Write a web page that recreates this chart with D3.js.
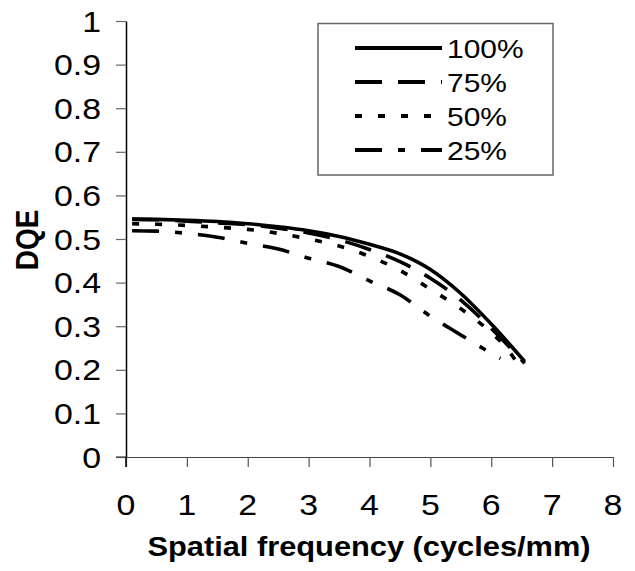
<!DOCTYPE html>
<html><head><meta charset="utf-8">
<script src="https://cdn.jsdelivr.net/npm/d3@7"></script>
<style>html,body{margin:0;padding:0;background:#fff;}svg{display:block;}</style>
</head><body>
<script>
// ---- data ----
const xTicks = [0,1,2,3,4,5,6,7,8];
const yTicks = [0,0.1,0.2,0.3,0.4,0.5,0.6,0.7,0.8,0.9,1];
const yTickLabels = ["0","0.1","0.2","0.3","0.4","0.5","0.6","0.7","0.8","0.9","1"];
const seriesNames = ["100%","75%","50%","25%"];
const freq100 = [0.1,0.5,1,1.5,2,2.5,3,3.5,4,4.5,5,5.5,6,6.55];
const dqe100  = [0.546,0.545,0.543,0.540,0.535,0.528,0.519,0.506,0.488,0.466,0.430,0.375,0.305,0.219];
const freq75  = [0.1,0.5,1,1.5,2,2.5,3,3.5,4,4.5,5,5.5,6,6.55];
const dqe75   = [0.545,0.544,0.541,0.537,0.533,0.525,0.514,0.498,0.476,0.448,0.410,0.360,0.295,0.215];
const freq50  = [0.1,0.5,1,1.5,2,2.5,3,3.5,4,4.5,5,5.5,6,6.25,6.52];
const dqe50   = [0.535,0.534,0.531,0.527,0.522,0.513,0.500,0.484,0.460,0.428,0.385,0.340,0.285,0.250,0.195];
const freq25  = [0.1,0.5,1,1.5,2,2.5,3,3.5,4,4.5,5,5.5,6,6.15];
const dqe25   = [0.519,0.518,0.513,0.504,0.490,0.477,0.456,0.437,0.404,0.372,0.323,0.280,0.238,0.226];
const xTitle = "Spatial frequency (cycles/mm)";
const yTitle = "DQE";

// ---- layout ----
const W = 635, H = 571;
const SX = 1.13; // horizontal stretch of text
const dashes = [null, "27,16", "7,16", "27,16,7,16"];
const series = [
  {name: seriesNames[0], f: freq100, v: dqe100, dash: dashes[0]},
  {name: seriesNames[1], f: freq75,  v: dqe75,  dash: dashes[1]},
  {name: seriesNames[2], f: freq50,  v: dqe50,  dash: dashes[2]},
  {name: seriesNames[3], f: freq25,  v: dqe25,  dash: dashes[3]}
];

const svg = d3.select("body").append("svg").attr("width", W).attr("height", H);
const x = d3.scaleLinear().domain([0,8]).range([126,613]);
const y = d3.scaleLinear().domain([0,1]).range([457,21]);
const font = "Liberation Sans, Arial, sans-serif";

// axes
const gx = svg.append("g").attr("transform", `translate(0,${y(0)})`)
  .call(d3.axisBottom(x).tickValues(xTicks).tickSize(10).tickSizeOuter(0).tickFormat(""));
const gy = svg.append("g").attr("transform", `translate(${x(0)},0)`)
  .call(d3.axisLeft(y).tickValues(yTicks).tickSize(10).tickSizeOuter(0).tickFormat(""));
gx.select(".domain").attr("stroke", "#444").attr("stroke-width", 1.2);
gx.selectAll(".tick line").attr("stroke", "#555").attr("stroke-width", 1.2);
gy.select(".domain").attr("stroke", "#000").attr("stroke-width", 1.5);
gy.selectAll(".tick line").attr("stroke", "#666").attr("stroke-width", 1.2);
// axis extensions at origin (ticks for 0 cross the other axis)
svg.append("line").attr("x1", x(0)-10).attr("x2", x(0)).attr("y1", y(0)).attr("y2", y(0)).attr("stroke", "#444").attr("stroke-width", 1.2);
svg.append("line").attr("x1", x(0)).attr("x2", x(0)).attr("y1", y(0)).attr("y2", y(0)+10).attr("stroke", "#000").attr("stroke-width", 1.5);

// tick labels
const TF = 30;
svg.append("g").selectAll("text").data(xTicks).join("text")
  .attr("transform", d => `translate(${x(d)},515) scale(${SX},1)`)
  .attr("text-anchor", "middle").attr("font-family", font).attr("font-size", TF)
  .text(d => String(d));
svg.append("g").selectAll("text").data(yTicks).join("text")
  .attr("transform", d => `translate(101,${y(d)+10.5}) scale(${SX},1)`)
  .attr("text-anchor", "end").attr("font-family", font).attr("font-size", TF)
  .text((d,i) => yTickLabels[i]);

// titles
svg.append("text").attr("transform", `translate(369,556) scale(1.1,1)`)
  .attr("text-anchor", "middle").attr("font-family", font).attr("font-weight", "bold").attr("font-size", 28)
  .text(xTitle);
svg.append("text").attr("transform", `translate(38,240) scale(${SX},1) rotate(-90)`)
  .attr("text-anchor", "middle").attr("font-family", font).attr("font-weight", "bold").attr("font-size", 28)
  .text(yTitle);

// lines
const line = d3.line().x(d => x(d[0])).y(d => y(d[1])).curve(d3.curveMonotoneX);
series.forEach(s => {
  const pts = s.f.map((f,i) => [f, s.v[i]]);
  svg.append("path").attr("d", line(pts)).attr("fill", "none")
    .attr("stroke", "#000").attr("stroke-width", 3.6)
    .attr("stroke-dasharray", s.dash).attr("stroke-linejoin", "round");
});

// legend
const lg = svg.append("g");
lg.append("rect").attr("x", 318).attr("y", 23.5).attr("width", 235).attr("height", 151.5)
  .attr("fill", "#fff").attr("stroke", "#666").attr("stroke-width", 1.5);
const rowY = [48, 82, 116, 150];
series.forEach((s,i) => {
  lg.append("line").attr("x1", 355).attr("x2", 442).attr("y1", rowY[i]).attr("y2", rowY[i])
    .attr("stroke", "#000").attr("stroke-width", 4).attr("stroke-dasharray", s.dash);
  lg.append("text").attr("transform", `translate(447,${rowY[i]+9.5}) scale(${SX},1)`)
    .attr("font-family", font).attr("font-size", 26.5).text(s.name);
});
</script>
</body></html>
